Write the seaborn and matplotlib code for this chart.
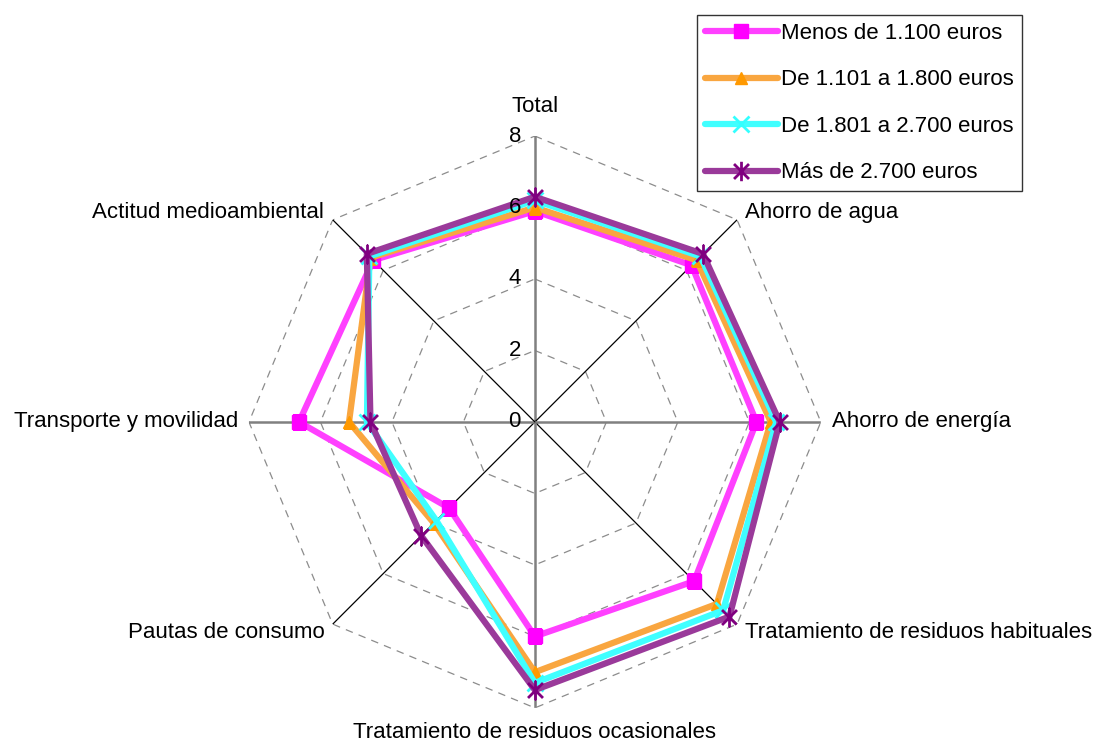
import numpy as np
import pandas as pd
import matplotlib
matplotlib.use("Agg")
import matplotlib.pyplot as plt
from matplotlib.path import Path
import seaborn as sns

# Axes of the radar, clockwise from the top
categories = [
    "Total",
    "Ahorro de agua",
    "Ahorro de energía",
    "Tratamiento de residuos habituales",
    "Tratamiento de residuos ocasionales",
    "Pautas de consumo",
    "Transporte y movilidad",
    "Actitud medioambiental",
]

# Income groups and their scores (same order as categories)
groups = [
    "Menos de 1.100 euros",
    "De 1.101 a 1.800 euros",
    "De 1.801 a 2.700 euros",
    "Más de 2.700 euros",
]
menos_1100 = [5.9, 6.2, 6.2, 6.3, 6.0, 3.4, 6.6, 6.4]
de_1101_1800 = [6.0, 6.4, 6.6, 7.2, 7.0, 4.0, 5.2, 6.5]
de_1801_2700 = [6.2, 6.55, 6.75, 7.45, 7.3, 3.9, 4.7, 6.55]
mas_2700 = [6.3, 6.65, 6.85, 7.7, 7.5, 4.5, 4.6, 6.65]
series = [menos_1100, de_1101_1800, de_1801_2700, mas_2700]

ticks = [0, 2, 4, 6, 8]
rmax = 8

line_colors = ["#FF40FF", "#F9A640", "#40FFFF", "#9A3A9A"]
marker_colors = ["#FF00FF", "#FF9900", "#33FFFF", "#800080"]

# Asterisk marker: an X crossed by a vertical bar
star = Path(
    [(-1, -1), (1, 1), (-1, 1), (1, -1), (0, -1.3), (0, 1.3)],
    [Path.MOVETO, Path.LINETO, Path.MOVETO, Path.LINETO, Path.MOVETO, Path.LINETO],
)
markers = ["s", "^", "x", star]
marker_sizes = [10, 9, 11, 14]
marker_ew = [1, 1, 2, 2]

n = len(categories)
theta = np.linspace(0, 2 * np.pi, n, endpoint=False)
theta_closed = np.append(theta, 2 * np.pi)

rows = []
for g, vals in zip(groups, series):
    closed = list(vals) + [vals[0]]
    for t, v in zip(theta_closed, closed):
        rows.append({"theta": t, "valor": v, "grupo": g})
df = pd.DataFrame(rows)

sns.set_theme(style="white")
plt.rcParams["font.family"] = ["Liberation Sans", "DejaVu Sans"]
plt.rcParams["text.color"] = "black"
FS = 16

fig = plt.figure(figsize=(11.04, 7.45), dpi=100)
ax = fig.add_axes([0.2255, 0.0497, 0.518, 0.7678], projection="polar")
ax.set_theta_zero_location("N")
ax.set_theta_direction(-1)
ax.set_ylim(0, rmax)
ax.set_xticks([])
ax.set_yticks([])
ax.grid(False)
ax.spines["polar"].set_visible(False)
ax.patch.set_alpha(0)

# Octagonal dashed grid
for r in ticks[1:]:
    ax.plot(theta_closed, [r] * len(theta_closed), color="#8C8C8C",
            lw=0.9, ls=(0, (6, 5)), zorder=1)

# Spokes: value axis and horizontal in grey, diagonals in black
for i, t in enumerate(theta):
    if i % 2 == 0:
        ax.plot([t, t], [0, rmax], color="#808080", lw=1.8, zorder=1.5)
    else:
        ax.plot([t, t], [0, rmax], color="black", lw=0.9, zorder=1.5)

n0 = len(ax.lines)
sns.lineplot(data=df, x="theta", y="valor", hue="grupo", hue_order=groups,
             palette=line_colors, sort=False, estimator=None, lw=4.5,
             legend=False, ax=ax, zorder=3)
ax.set_xlabel("")
ax.set_ylabel("")

data_lines = ax.lines[n0:n0 + len(groups)]
for ln, m, ms, mew, mc in zip(data_lines, markers, marker_sizes, marker_ew, marker_colors):
    ln.set_marker(m)
    ln.set_markersize(ms)
    ln.set_markeredgewidth(mew)
    ln.set_markeredgecolor(mc)
    ln.set_markerfacecolor(mc)
    ln.set_markevery(list(range(n)))

# Radial value labels beside the top axis
for v in ticks:
    ax.annotate(str(v), xy=(0, v), xytext=(-10, 0), textcoords="offset points",
                ha="right", va="center", fontsize=FS, color="black",
                annotation_clip=False)

# Category labels around the outside
label_specs = [
    ("center", "bottom", (0, 14)),
    ("left", "center", (6, 5)),
    ("left", "center", (8, 0)),
    ("left", "center", (6, -6)),
    ("center", "top", (0, -10)),
    ("right", "center", (-6, -6)),
    ("right", "center", (-8, 0)),
    ("right", "center", (-6, 5)),
]
for t, lab, (ha, va, off) in zip(theta, categories, label_specs):
    ax.annotate(lab, xy=(t, rmax), xytext=off, textcoords="offset points",
                ha=ha, va=va, fontsize=FS, color="black", annotation_clip=False)

leg = fig.legend(handles=data_lines, labels=groups, loc="upper left",
                 bbox_to_anchor=(697 / 1104, 1 - 15 / 745), fontsize=FS,
                 frameon=True, fancybox=False, edgecolor="black",
                 handlelength=3.3, handletextpad=0.15, labelspacing=1.15,
                 borderpad=0.35, borderaxespad=0)
leg.get_frame().set_linewidth(1.0)
for txt in leg.get_texts():
    txt.set_color("black")

fig.savefig("out.png", dpi=100, facecolor="white")
